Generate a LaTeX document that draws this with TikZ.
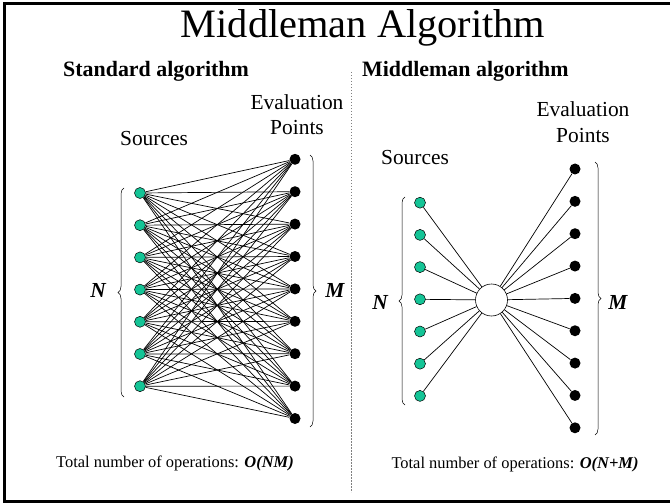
\documentclass[tikz,border=0pt]{standalone}
\usepackage{fontspec}
\setmainfont{Liberation Serif}
\usepackage{tikz}
\usetikzlibrary{positioning, backgrounds, decorations.pathreplacing}
\definecolor{srcgreen}{RGB}{20,196,150}

\begin{document}
\begin{tikzpicture}[x=1bp, y=-1bp,
    src/.style={draw, circle, fill=srcgreen, line width=0.5bp, minimum size=11bp, inner sep=0pt},
    evl/.style={circle, fill=black, minimum size=11bp, inner sep=0pt},
    hub/.style={draw, circle, fill=white, line width=0.6bp, minimum size=32bp, inner sep=0pt},
    wire/.style={line width=0.7bp},
    lbl/.style={font=\fontsize{21.5}{25}\selectfont, inner sep=0pt, anchor=base},
    sym/.style={font=\fontsize{21.5}{25}\selectfont\bfseries\itshape, inner sep=0pt},
    head/.style={font=\fontsize{22}{26}\selectfont\bfseries, inner sep=0pt, anchor=base west},
    foot/.style={font=\fontsize{16.5}{20}\selectfont, inner sep=0pt, anchor=base},
    brc/.style={decorate, decoration={brace, amplitude=6bp}, line width=0.5bp}]
  \useasboundingbox (0,0) rectangle (670,504);
  \draw[line width=3bp] (4.5,4) rectangle (674,501.5);

  \node[font=\fontsize{40.5}{44}\selectfont, inner sep=0pt, anchor=base] (title) at (363,38) {Middleman Algorithm};
  \node[head] (stdhead) at (63,77) {Standard algorithm};
  \node[head] (midhead) at (362,77) {Middleman algorithm};
  \draw[gray, line width=0.6bp, dash pattern=on 1.5bp off 1.5bp] (351.5,72) -- (351.5,492);

  % standard algorithm: every source talks to every point
  \def \nsrc {7}
  \def \nevl {9}
  \foreach \i in {1,...,\nsrc}
    \node[src] (ls\i) at (140, {193+32.2*(\i-1)}) {};
  \foreach \j in {1,...,\nevl}
    \node[evl] (le\j) at (295, {159.3+32.4*(\j-1)}) {};
  \begin{scope}[on background layer]
  \foreach \i in {1,...,\nsrc}
    \foreach \j in {1,...,\nevl}
      \draw[wire] (ls\i) -- (le\j);
  \end{scope}

  \node[lbl] (lsrc) at (154,146) {Sources};
  \node[lbl] (levl) at (297,110) {Evaluation};
  \node[lbl] (lpts) at (297,135) {Points};
  \draw[brc] (124,397) -- (124,188);
  \draw[brc] (310,155) -- (310,427);
  \node[sym] (ln) at (98,290) {N};
  \node[sym] (lm) at (335,290) {M};
  \node[foot] (lfoot) at (175,467) {Total number of operations: \textbf{\textit{O(NM)}}};

  % middleman algorithm: everything goes through one hub
  \node[hub] (mid) at (491.5,300) {};
  \foreach \i in {1,...,\nsrc}
  {
    \node[src] (rs\i) at (420, {202.7+32.2*(\i-1)}) {};
    \draw[wire] (rs\i) -- (mid);
  }
  \foreach \j in {1,...,\nevl}
  {
    \node[evl] (re\j) at (575, {169+32.35*(\j-1)}) {};
    \draw[wire] (mid) -- (re\j);
  }

  \node[lbl] (rsrc) at (415,165) {Sources};
  \node[lbl] (revl) at (583,117) {Evaluation};
  \node[lbl] (rpts) at (583,143) {Points};
  \draw[brc] (405,405) -- (405,197);
  \draw[brc] (595,162) -- (595,435);
  \node[sym] (rn) at (380,302) {N};
  \node[sym] (rm) at (618,302) {M};
  \node[foot] (rfoot) at (515,468) {Total number of operations: \textbf{\textit{O(N+M)}}};
\end{tikzpicture}
\end{document}
